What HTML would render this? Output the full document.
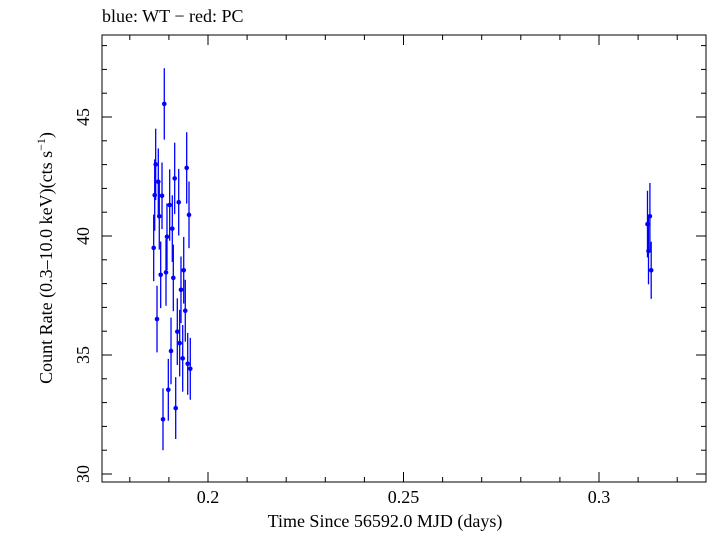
<!DOCTYPE html>
<html><head><meta charset="utf-8"><style>
body{margin:0;background:#fff;width:709px;height:532px;overflow:hidden}
svg{font-family:"Liberation Serif",serif}
</style></head><body>
<svg id="c" width="709" height="532"></svg>
<script>
const xs=[0.18882,0.18662,0.18729,0.18637,0.18824,0.19148,0.19455,0.19020,0.19251,0.18754,0.19514,0.19087,0.18951,0.18611,0.18790,0.18926,0.19113,0.19379,0.19309,0.19419,0.18696,0.19215,0.19276,0.19054,0.19353,0.19481,0.19547,0.18985,0.19174,0.18849,0.31302,0.31240,0.31266,0.31335];
const ys=[45.55,43.01,42.28,41.72,41.69,42.42,42.86,41.30,41.42,40.83,40.89,40.31,39.97,39.50,38.37,38.47,38.24,38.56,37.74,36.86,36.51,35.98,35.50,35.17,34.86,34.63,34.42,33.54,32.77,32.30,40.83,40.50,39.37,38.56];
const errs=[1.5,1.5,1.4,1.5,1.4,1.5,1.5,1.5,1.4,1.4,1.4,1.4,1.4,1.4,1.4,1.4,1.4,1.4,1.4,1.3,1.4,1.4,1.4,1.4,1.4,1.3,1.3,1.3,1.3,1.3,1.4,1.4,1.4,1.2];
const xTicks=[0.2,0.25,0.3];
const yTicks=[30,35,40,45];
const L=102,R=706,T=35,B=482;
const X=v=>208+(v-0.2)*3910;
const Y=v=>474-(v-30)*23.8;
const s=document.getElementById('c');const NS='http://www.w3.org/2000/svg';
function mk(t,a,p){const e=document.createElementNS(NS,t);for(const k in a)e.setAttribute(k,a[k]);(p||s).appendChild(e);return e;}
const f=mk('rect',{x:L,y:T,width:R-L,height:B-T,fill:'none',stroke:'#000','stroke-width':1});


for(let v=0.18;v<=0.3201;v+=0.01){const x=X(v);const maj=xTicks.some(t=>Math.abs(t-v)<1e-6);const l=maj?10:5;
 const t1=mk('line',{x1:x,x2:x,y1:B,y2:B-l,stroke:'#000'});
 const t2=mk('line',{x1:x,x2:x,y1:T,y2:T+l,stroke:'#000'});}
for(let v=30;v<=48;v++){const y=Y(v);const maj=v%5==0;const l=maj?10:5;
 const t1=mk('line',{x1:L,x2:L+l,y1:y,y2:y,stroke:'#000'});
 const t2=mk('line',{x1:R,x2:R-l,y1:y,y2:y,stroke:'#000'});}
xTicks.forEach(v=>{const t=mk('text',{x:X(v),y:503,'font-size':18,'text-anchor':'middle'});t.textContent=String(v);});
yTicks.forEach(v=>{const t=mk('text',{x:0,y:0,'font-size':18,'text-anchor':'middle',transform:`translate(89,${Y(v)}) rotate(-90)`});t.textContent=String(v);});
const xt=mk('text',{x:385,y:527,'font-size':18,'text-anchor':'middle'});xt.textContent='Time Since 56592.0 MJD (days)';


const yt=mk('text',{x:0,y:0,'font-size':18,'text-anchor':'middle',transform:'translate(52,258) rotate(-90)'});
yt.innerHTML='Count Rate (0.3\u201310.0 keV)(cts s<tspan font-size="12" dy="-7">\u22121</tspan><tspan dy="7">)</tspan>';


const tt=mk('text',{x:102,y:22,'font-size':18});tt.textContent='blue: WT \u2212 red: PC';


xs.forEach((v,i)=>{const x=X(v),y=Y(ys[i]);
 const e=mk('line',{x1:x,x2:x,y1:Y(ys[i]+errs[i]),y2:Y(ys[i]-errs[i]),stroke:'#0000ff','stroke-width':1.3});
 
 
 const c=mk('circle',{cx:x,cy:y,r:2.3,fill:'#0000ff'});
 
 });
</script>
</body></html>
